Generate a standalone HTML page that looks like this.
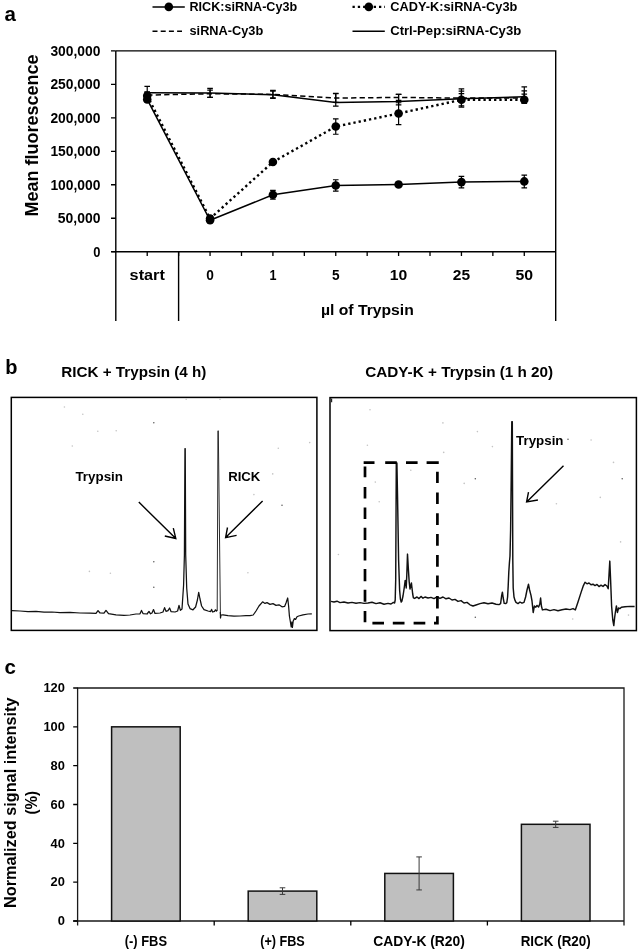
<!DOCTYPE html>
<html lang="en"><head><meta charset="utf-8"><title>Figure</title>
<style>
html,body{margin:0;padding:0;background:#fff;}
svg{display:block;}
text{font-family:"Liberation Sans", sans-serif;font-weight:bold;fill:#000;}
</style></head><body>
<svg width="638" height="951" viewBox="0 0 638 951">
<rect width="638" height="951" fill="#fff"/>
<g id="panel-a">
<text x="4.4" y="21.2" font-size="20.5" text-anchor="start">a</text>
<path d="M115.8 50.9H555.7V321M115.8 50.9V321M178.6 251.7V321M111.2 251.7H555.7" fill="none" stroke="#000" stroke-width="1.4"/>
<text x="100.4" y="256.6" font-size="13.8" text-anchor="end" textLength="7.2" lengthAdjust="spacingAndGlyphs">0</text>
<text x="100.4" y="223.1" font-size="13.8" text-anchor="end" textLength="42.6" lengthAdjust="spacingAndGlyphs">50,000</text>
<text x="100.4" y="189.7" font-size="13.8" text-anchor="end" textLength="50" lengthAdjust="spacingAndGlyphs">100,000</text>
<text x="100.4" y="156.2" font-size="13.8" text-anchor="end" textLength="50" lengthAdjust="spacingAndGlyphs">150,000</text>
<text x="100.4" y="122.7" font-size="13.8" text-anchor="end" textLength="50" lengthAdjust="spacingAndGlyphs">200,000</text>
<text x="100.4" y="89.3" font-size="13.8" text-anchor="end" textLength="50" lengthAdjust="spacingAndGlyphs">250,000</text>
<text x="100.4" y="55.8" font-size="13.8" text-anchor="end" textLength="50" lengthAdjust="spacingAndGlyphs">300,000</text>
<path d="M111.0 251.7H115.8M111.0 218.23H115.8M111.0 184.77H115.8M111.0 151.3H115.8M111.0 117.83H115.8M111.0 84.37H115.8M111.0 50.9H115.8M147.22 251.7V256.09999999999997M178.64 251.7V256.09999999999997M210.06 251.7V256.09999999999997M241.49 251.7V256.09999999999997M272.91 251.7V256.09999999999997M304.33 251.7V256.09999999999997M335.75 251.7V256.09999999999997M367.17 251.7V256.09999999999997M398.59 251.7V256.09999999999997M430.01 251.7V256.09999999999997M461.44 251.7V256.09999999999997M492.86 251.7V256.09999999999997M524.28 251.7V256.09999999999997" stroke="#000" stroke-width="1.3" fill="none"/>
<text x="147.22" y="280.4" font-size="15" text-anchor="middle" textLength="35.2" lengthAdjust="spacingAndGlyphs">start</text>
<text x="210.06" y="280.4" font-size="15" text-anchor="middle" textLength="7.6" lengthAdjust="spacingAndGlyphs">0</text>
<text x="272.91" y="280.4" font-size="15" text-anchor="middle" textLength="7.0" lengthAdjust="spacingAndGlyphs">1</text>
<text x="335.75" y="280.4" font-size="15" text-anchor="middle" textLength="7.6" lengthAdjust="spacingAndGlyphs">5</text>
<text x="398.59" y="280.4" font-size="15" text-anchor="middle" textLength="17.5" lengthAdjust="spacingAndGlyphs">10</text>
<text x="461.44" y="280.4" font-size="15" text-anchor="middle" textLength="17.3" lengthAdjust="spacingAndGlyphs">25</text>
<text x="524.28" y="280.4" font-size="15" text-anchor="middle" textLength="17.6" lengthAdjust="spacingAndGlyphs">50</text>
<text x="367.4" y="314.6" font-size="15.2" text-anchor="middle" textLength="92.8" lengthAdjust="spacingAndGlyphs">µl of Trypsin</text>
<text transform="translate(38.2 135.5) rotate(-90)" font-size="18.6" text-anchor="middle" textLength="162" lengthAdjust="spacingAndGlyphs">Mean fluorescence</text>
<path d="M147.22 86.37V99.09M144.42 86.37H150.02M144.42 99.09H150.02M210.06 88.38V97.42M207.26 88.38H212.86M207.26 97.42H212.86M272.91 90.39V98.42M270.11 90.39H275.71000000000004M270.11 98.42H275.71000000000004M335.75 93.4V106.12M332.95 93.4H338.55M332.95 106.12H338.55M398.59 94.41V104.78M395.78999999999996 94.41H401.39M395.78999999999996 104.78H401.39M461.44 88.85V105.79M458.64 88.85H464.24M458.64 105.79H464.24M524.28 86.91V103.11M521.48 86.91H527.0799999999999M521.48 103.11H527.0799999999999" stroke="#000" stroke-width="1.2" fill="none"/>
<path d="M147.22 93.07V97.08M144.42 93.07H150.02M144.42 97.08H150.02M210.06 90.06V97.42M207.26 90.06H212.86M207.26 97.42H212.86M272.91 91.06V97.75M270.11 91.06H275.71000000000004M270.11 97.75H275.71000000000004M335.75 93.74V102.44M332.95 93.74H338.55M332.95 102.44H338.55M398.59 94.41V100.43M395.78999999999996 94.41H401.39M395.78999999999996 100.43H401.39M461.44 93.6V102.44M458.64 93.6H464.24M458.64 102.44H464.24M524.28 94.21V101.77M521.48 94.21H527.0799999999999M521.48 101.77H527.0799999999999" stroke="#000" stroke-width="1.2" fill="none"/>
<path d="M147.22 91.73V99.09M144.42 91.73H150.02M144.42 99.09H150.02M210.06 215.56V219.57M207.26 215.56H212.86M207.26 219.57H212.86M272.91 160.0V164.02M270.11 160.0H275.71000000000004M270.11 164.02H275.71000000000004M335.75 118.84V134.23M332.95 118.84H338.55M332.95 134.23H338.55M398.59 102.77V124.53M395.78999999999996 102.77H401.39M395.78999999999996 124.53H401.39M461.44 91.19V107.12M458.64 91.19H464.24M458.64 107.12H464.24M524.28 90.79V103.11M521.48 90.79H527.0799999999999M521.48 103.11H527.0799999999999" stroke="#000" stroke-width="1.2" fill="none"/>
<path d="M147.22 92.4V101.77M144.42 92.4H150.02M144.42 101.77H150.02M210.06 218.23V222.25M207.26 218.23H212.86M207.26 222.25H212.86M272.91 190.46V199.16M270.11 190.46H275.71000000000004M270.11 199.16H275.71000000000004M335.75 179.75V191.13M332.95 179.75H338.55M332.95 191.13H338.55M398.59 182.42V186.44M395.78999999999996 182.42H401.39M395.78999999999996 186.44H401.39M461.44 176.4V187.78M458.64 176.4H464.24M458.64 187.78H464.24M524.28 175.06V187.78M521.48 175.06H527.0799999999999M521.48 187.78H527.0799999999999" stroke="#000" stroke-width="1.2" fill="none"/>
<polyline points="147.22,95.08 210.06,93.74 272.91,94.41 335.75,98.09 398.59,97.42 461.44,98.09 524.28,98.09" fill="none" stroke="#000" stroke-width="1.5" stroke-dasharray="5.3 3.2"/>
<polyline points="147.22,92.73 210.06,93.07 272.91,94.74 335.75,102.44 398.59,101.43 461.44,98.76 524.28,96.75" fill="none" stroke="#000" stroke-width="1.5"/>
<polyline points="147.22,95.75 210.06,218.57 272.91,162.01 335.75,126.53 398.59,113.48 461.44,99.76 524.28,99.76" fill="none" stroke="#000" stroke-width="2.4" stroke-dasharray="2.3 3.0"/>
<polyline points="147.22,99.43 210.06,220.24 272.91,194.81 335.75,185.44 398.59,184.43 461.44,182.09 524.28,181.42" fill="none" stroke="#000" stroke-width="1.5"/>
<circle cx="147.22" cy="95.75" r="4.3"/>
<circle cx="210.06" cy="218.57" r="4.3"/>
<circle cx="272.91" cy="162.01" r="4.3"/>
<circle cx="335.75" cy="126.53" r="4.3"/>
<circle cx="398.59" cy="113.48" r="4.3"/>
<circle cx="461.44" cy="99.76" r="4.3"/>
<circle cx="524.28" cy="99.76" r="4.3"/>
<circle cx="147.22" cy="99.43" r="4.3"/>
<circle cx="210.06" cy="220.24" r="4.3"/>
<circle cx="272.91" cy="194.81" r="4.3"/>
<circle cx="335.75" cy="185.44" r="4.3"/>
<circle cx="398.59" cy="184.43" r="4.3"/>
<circle cx="461.44" cy="182.09" r="4.3"/>
<circle cx="524.28" cy="181.42" r="4.3"/>
<path d="M152.5 6.9H184.8" stroke="#000" stroke-width="1.5"/><circle cx="168.8" cy="6.9" r="4.3"/>
<text x="189.5" y="11.2" font-size="12.8" text-anchor="start" textLength="107.6" lengthAdjust="spacingAndGlyphs">RICK:siRNA-Cy3b</text>
<path d="M152.5 31.3H182" stroke="#000" stroke-width="1.5" stroke-dasharray="5 3.2"/>
<text x="189.5" y="35.4" font-size="12.8" text-anchor="start" textLength="73.7" lengthAdjust="spacingAndGlyphs">siRNA-Cy3b</text>
<path d="M352.5 6.9H385" stroke="#000" stroke-width="2.4" stroke-dasharray="2.3 3.0"/><circle cx="368.8" cy="6.9" r="4.3"/>
<text x="390.2" y="11.2" font-size="12.8" text-anchor="start" textLength="127.2" lengthAdjust="spacingAndGlyphs">CADY-K:siRNA-Cy3b</text>
<path d="M352.5 31.3H384.8" stroke="#000" stroke-width="1.5"/>
<text x="390.2" y="35.4" font-size="12.8" text-anchor="start" textLength="131" lengthAdjust="spacingAndGlyphs">Ctrl-Pep:siRNA-Cy3b</text>
</g>
<g id="panel-b">
<text x="5.2" y="373.8" font-size="20" text-anchor="start">b</text>
<text x="61.3" y="377.0" font-size="15.2" text-anchor="start" textLength="145" lengthAdjust="spacingAndGlyphs">RICK + Trypsin (4 h)</text>
<text x="365.2" y="377.0" font-size="15.2" text-anchor="start" textLength="188" lengthAdjust="spacingAndGlyphs">CADY-K + Trypsin (1 h 20)</text>
<rect x="11.3" y="397.4" width="305.6" height="233" fill="#fff" stroke="#000" stroke-width="1.5"/>
<rect x="330" y="397.6" width="306.4" height="233" fill="#fff" stroke="#000" stroke-width="1.5"/>
<path d="M12 610.6 L20 611 28 611.6 36 611.4 44 612.2 52 612 60 612.6 70 612.4 80 613 90 613.2 96 613.4 98 610.6 100 613 104 613.2 106 610.4 108.5 613.6 116 614.8 124 615.4 130 615 136 614 140 613.8 141.5 610.4 143 613.6 147 614 149 611.4 150.5 613.8 152 613 153.5 609.6 155 613.4 160 613 163 612 164.6 607.6 166 611.4 168 610.6 169.6 608 171 611.6 175 612 177.6 611 179 605.4 180.4 610.4 182 609 182.6 600 183.6 585 184.4 555 184.95 448.6 185.25 448.6 185.7 555 186.7 588 188 604 190 608.6 193 609.8 195.6 607 197.4 600 198.7 592.4 200 599 201.6 606 204 609.6 208 611 210.6 611.6 211.6 609.4 212.6 612 214.6 611.4 215.4 609.8 216.6 611 217.2 610 M220.35 612 L220.5 618 221 615 223 614.8 228 615.6 234 616.2 240 616 246 615.6 250 615.6 253.2 615 256 611 259 606 262.6 601.8 265 603.4 267 602.6 270 604.4 273 603.6 276 605.4 279 604.8 282 606.8 284.6 606.4 286 603 287.7 598 288.6 606 289.4 616 290.4 622 291.2 627 291.9 622 292.4 627.4 293.2 621 294.4 618.6 295.6 619.4 297 616.8 298.7 616 303 614.8 308 614 311.8 613.8" fill="none" stroke="#111" stroke-width="1.25" stroke-linejoin="round"/>
<path d="M217.2 610.5L217.95 430.8L218.3 430.8L220.4 614" fill="none" stroke="#222" stroke-width="0.95" stroke-linejoin="round"/>
<path d="M331 601.4 L334 602 337 601.2 340 602.6 344 602 348 603 352 602.4 356 603.2 360 602.6 364 603.4 368 603 372 602.2 376 603.6 380 602.8 384 604.2 388 603.4 391 604 393.4 602.4 394.6 603 395.2 600 395.7 580 396.3 463 396.9 463 397.6 500 398.6 560 399.6 590 400.4 599 401.2 602 401.9 601 403 596 404.2 588 405.2 580.4 405.7 582 406.2 588 406.8 575 407.5 554.1 408.3 568 409.2 582 410 589 410.7 586 411.4 582.9 412 588 412.7 594 413.4 597.9 414.6 598.4 417 597 419 598.6 421 596.4 423 598.2 425 597 428 598 431 597.4 434 598.6 437 596.8 440 598.4 443 597 446 598.8 449 598 452 600 455 599.4 458 601.4 461 600.6 464 603 467 602.4 470 604.8 473 606 476 605 480 603.6 484 602.8 488 603.8 492 603 496 604.2 499 604.6 500.6 603.6 501.6 596 502.4 592.2 503.2 598 504.2 603.4 505.6 603.6 506.8 602.6 507.6 597 508.2 586 508.8 572 509.4 563 510 556 510.6 530 511.2 480 511.8 421.6 512.3 421.6 512.5 480 512.8 560 513.2 588 514 597 515 600.4 516 602.4 518 603.6 520 602 522 603.2 524 602.4 525.6 597 527 590 528.5 584.3 529.6 590 531 595.4 532 601 533.2 612.5 534.4 606 535.8 607.2 537 605.4 538.6 607 539.8 604 540.6 598 541.4 606 542.4 609.9 546 609.2 550 610.6 554 609.6 558 610.8 562 609.8 566 609 570 609.6 573 608.6 575.3 609.9 578 602 581 592.6 583.4 585.6 585 582.2 587 583.8 589 583 591 584.8 593 584.2 595 585.6 597 584.4 599 586.6 601 585.2 603 586.4 605 584.6 606.9 586 608.2 588.8 609 575 609.8 561.1 610.6 580 611.6 606 612.8 620 613.8 625.6 614.6 618 615.4 612 616.4 605.9 617.4 612.5 618.6 608 620 608.6 621.4 607.2 625 606.8 630 606.4 634.6 606.4" fill="none" stroke="#111" stroke-width="1.45" stroke-linejoin="round"/>
<path d="M363.65 462.6H374.5M385.2 462.6H396.8M406 462.6H417.6M426.6 462.6H438.75M437.4 471.8V483.1M437.4 492.4V504.1M437.4 513.2V524.9M437.4 534V545.7M437.4 555V566.7M437.4 575.5V587.2M437.4 595.9V608.6M437.4 616.3V624.55M438.75 623.2H434M425.3 623.2H413.6M404.5 623.2H392.8M384 623.2H372.4M365 622.2V611.1M365 601.8V589.7M365 581.3V569.1M365 560.5V548.2M365 539.9V527.8M365 519.1V507.4M365 498.6V487M365 477.2V466.5" fill="none" stroke="#000" stroke-width="2.7"/>
<g fill="#555"><circle cx="153.8" cy="422.8" r="0.75"/><circle cx="153.8" cy="561.7" r="0.75"/><circle cx="153.8" cy="587.2" r="0.75"/><circle cx="282" cy="505.3" r="0.75"/><circle cx="475.3" cy="478.7" r="0.75"/><circle cx="622.2" cy="478.7" r="0.75"/><circle cx="475.3" cy="617.3" r="0.75"/><circle cx="568" cy="439.2" r="0.75"/></g>
<g fill="#c4c4c4"><circle cx="64.4" cy="407" r="0.8"/><circle cx="82.8" cy="414.2" r="0.8"/><circle cx="97.8" cy="431.3" r="0.8"/><circle cx="116.2" cy="430.7" r="0.8"/><circle cx="72.3" cy="446" r="0.8"/><circle cx="89.4" cy="571.4" r="0.8"/><circle cx="110.4" cy="573.2" r="0.8"/><circle cx="278.3" cy="448.2" r="0.8"/><circle cx="309.7" cy="442.6" r="0.8"/><circle cx="272.7" cy="473.9" r="0.8"/><circle cx="253.9" cy="494.6" r="0.8"/><circle cx="247.9" cy="572.7" r="0.8"/><circle cx="370" cy="409.7" r="0.8"/><circle cx="442.9" cy="422.9" r="0.8"/><circle cx="367.4" cy="445.3" r="0.8"/><circle cx="443.7" cy="452.4" r="0.8"/><circle cx="464.2" cy="483.4" r="0.8"/><circle cx="375.3" cy="482.1" r="0.8"/><circle cx="410.8" cy="470.3" r="0.8"/><circle cx="379.2" cy="501.8" r="0.8"/><circle cx="338.4" cy="554.5" r="0.8"/><circle cx="477.4" cy="431.6" r="0.8"/><circle cx="492.4" cy="446.6" r="0.8"/><circle cx="591.1" cy="440" r="0.8"/><circle cx="613.5" cy="462.4" r="0.8"/><circle cx="600.3" cy="497.4" r="0.8"/><circle cx="556.4" cy="503.7" r="0.8"/><circle cx="620.6" cy="541.9" r="0.8"/><circle cx="628.5" cy="615.1" r="0.8"/><circle cx="572.7" cy="619" r="0.8"/><circle cx="186.2" cy="399.2" r="0.8"/><circle cx="220" cy="399.2" r="0.8"/></g>
<path d="M331.6 398.4V402.2" stroke="#222" stroke-width="1.2"/>
<text x="75.4" y="480.7" font-size="13.3" text-anchor="start" textLength="47.6" lengthAdjust="spacingAndGlyphs">Trypsin</text>
<text x="228.2" y="481.1" font-size="13.3" text-anchor="start" textLength="32.2" lengthAdjust="spacingAndGlyphs">RICK</text>
<text x="516.1" y="444.5" font-size="13.3" text-anchor="start" textLength="47.4" lengthAdjust="spacingAndGlyphs">Trypsin</text>
<path d="M138.8 502.1L175.8 538.5M164.8 536L175.8 538.5L173.3 528.2" fill="none" stroke="#000" stroke-width="1.4"/>
<path d="M262.6 500.9L225.6 537.6M227.5 527.5L225.6 537.6L236.6 535.4" fill="none" stroke="#000" stroke-width="1.4"/>
<path d="M563.5 465.8L526.6 501.9M528.5 492.2L526.6 501.9L537.9 500" fill="none" stroke="#000" stroke-width="1.4"/>
</g>
<g id="panel-c">
<text x="4.6" y="674.4" font-size="20.5" text-anchor="start">c</text>
<path d="M77.6 925.6V688.0H624.0V925.6M73.19999999999999 921.0H624.0" fill="none" stroke="#1a1a1a" stroke-width="1.3"/>
<text x="64.9" y="925.2" font-size="13.1" text-anchor="end" textLength="7.2" lengthAdjust="spacingAndGlyphs">0</text>
<text x="64.9" y="886.4" font-size="13.1" text-anchor="end" textLength="14.3" lengthAdjust="spacingAndGlyphs">20</text>
<text x="64.9" y="847.5" font-size="13.1" text-anchor="end" textLength="14.3" lengthAdjust="spacingAndGlyphs">40</text>
<text x="64.9" y="808.7" font-size="13.1" text-anchor="end" textLength="14.3" lengthAdjust="spacingAndGlyphs">60</text>
<text x="64.9" y="769.9" font-size="13.1" text-anchor="end" textLength="14.3" lengthAdjust="spacingAndGlyphs">80</text>
<text x="64.9" y="731.0" font-size="13.1" text-anchor="end" textLength="21.5" lengthAdjust="spacingAndGlyphs">100</text>
<text x="64.9" y="692.2" font-size="13.1" text-anchor="end" textLength="21.5" lengthAdjust="spacingAndGlyphs">120</text>
<path d="M73.19999999999999 921.0H77.6M73.19999999999999 882.17H77.6M73.19999999999999 843.33H77.6M73.19999999999999 804.5H77.6M73.19999999999999 765.67H77.6M73.19999999999999 726.83H77.6M73.19999999999999 688.0H77.6M214.2 921.0V925.6M350.8 921.0V925.6M487.4 921.0V925.6" stroke="#000" stroke-width="1.3" fill="none"/>
<rect x="111.6" y="726.83" width="68.6" height="194.17" fill="#bfbfbf" stroke="#111" stroke-width="1.5"/>
<text x="145.9" y="946.2" font-size="14" text-anchor="middle" textLength="42.3" lengthAdjust="spacingAndGlyphs">(-) FBS</text>
<rect x="248.2" y="891.1" width="68.6" height="29.9" fill="#bfbfbf" stroke="#111" stroke-width="1.5"/>
<path d="M282.5 887.8V894.4M279.7 887.8H285.3M279.7 894.4H285.3" stroke="#3a3a3a" stroke-width="1" fill="none"/>
<text x="282.5" y="946.2" font-size="14" text-anchor="middle" textLength="44.6" lengthAdjust="spacingAndGlyphs">(+) FBS</text>
<rect x="384.8" y="873.43" width="68.6" height="47.57" fill="#bfbfbf" stroke="#111" stroke-width="1.5"/>
<path d="M419.1 856.92V889.93M416.3 856.92H421.90000000000003M416.3 889.93H421.90000000000003" stroke="#3a3a3a" stroke-width="1" fill="none"/>
<text x="419.1" y="946.2" font-size="14" text-anchor="middle" textLength="91.6" lengthAdjust="spacingAndGlyphs">CADY-K (R20)</text>
<rect x="521.4" y="824.31" width="68.6" height="96.69" fill="#bfbfbf" stroke="#111" stroke-width="1.5"/>
<path d="M555.7 821.2V827.41M552.9000000000001 821.2H558.5M552.9000000000001 827.41H558.5" stroke="#3a3a3a" stroke-width="1" fill="none"/>
<text x="555.7" y="946.2" font-size="14" text-anchor="middle" textLength="70" lengthAdjust="spacingAndGlyphs">RICK (R20)</text>
<text transform="translate(15.8 802.7) rotate(-90)" font-size="16.8" text-anchor="middle" textLength="210.5" lengthAdjust="spacingAndGlyphs">Normalized signal intensity</text>
<text transform="translate(36.6 802.7) rotate(-90)" font-size="16.8" text-anchor="middle" textLength="23.7" lengthAdjust="spacingAndGlyphs">(%)</text>
</g>
</svg>
</body></html>
